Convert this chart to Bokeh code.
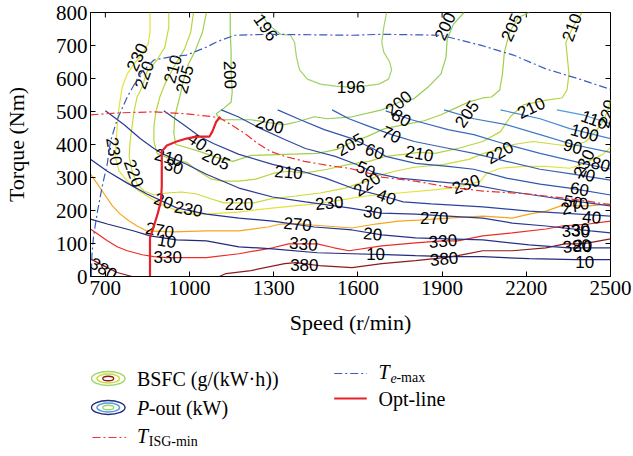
from bokeh.plotting import figure
from bokeh.models import Range1d, FixedTicker
from bokeh.layouts import column
from bokeh.embed import file_html
from bokeh.resources import INLINE
from bokeh.core.properties import value

# ---------------- data (speed r/min, torque Nm) ----------------
X_TICKS = [700, 1000, 1300, 1600, 1900, 2200, 2500]
Y_TICKS = [0, 100, 200, 300, 400, 500, 600, 700, 800]

BSFC_196_N = [1254, 1279, 1325, 1360, 1374, 1381, 1392, 1420, 1466, 1519, 1572, 1621, 1674, 1709, 1720, 1713, 1692, 1685, 1692, 1702]
BSFC_196_T = [800, 764, 734, 731, 710, 665, 626, 598, 583, 577, 574, 577, 583, 598, 626, 650, 680, 710, 755, 800]

BSFC_200_N = [1145, 1145, 1148, 1148, 1152, 1148, 1124, 1095, 1109, 1148, 1219, 1286, 1339, 1385, 1445, 1491, 1579, 1685, 1748, 1798, 1850, 1896, 1914, 1918, 1940, 1978]
BSFC_200_T = [800, 740, 680, 620, 559, 529, 511, 493, 475, 475, 475, 466, 460, 469, 484, 478, 484, 505, 529, 538, 574, 614, 665, 719, 764, 800]

BSFC_205_N = [1060, 1046, 1018, 996, 979, 965, 947, 944, 951, 989, 1035, 1095, 1155, 1219, 1339, 1455, 1526, 1582, 1632, 1695, 1766, 1836, 1896, 1949, 1995, 2045, 2076, 2105, 2115, 2122, 2140, 2172, 2210]
BSFC_205_T = [800, 740, 680, 644, 595, 544, 484, 433, 400, 391, 379, 361, 349, 367, 370, 373, 385, 409, 424, 448, 460, 472, 490, 511, 529, 541, 544, 565, 614, 680, 740, 785, 800]

BSFC_210_N = [1014, 1004, 982, 944, 912, 894, 880, 873, 873, 884, 936, 989, 1032, 1078, 1120, 1176, 1236, 1300, 1353, 1409, 1491, 1568, 1639, 1699, 1762, 1819, 1875, 1956, 2045, 2108, 2143, 2189, 2277, 2327, 2345, 2352, 2345, 2341, 2366, 2398]
BSFC_210_T = [800, 740, 689, 635, 583, 544, 499, 454, 409, 373, 355, 346, 319, 295, 289, 289, 295, 313, 319, 313, 325, 340, 349, 364, 370, 376, 373, 388, 409, 439, 484, 520, 535, 541, 565, 614, 674, 710, 755, 800]

BSFC_220_N = [926, 926, 912, 884, 848, 831, 813, 802, 795, 788, 785, 795, 813, 838, 873, 919, 972, 1025, 1078, 1123, 1176, 1229, 1289, 1378, 1466, 1554, 1596, 1632, 1667, 1731, 1801, 1907, 1995, 2048, 2101, 2154, 2225, 2306, 2366, 2412, 2447, 2472, 2489, 2500]
BSFC_220_T = [800, 755, 695, 656, 620, 574, 544, 499, 454, 409, 364, 319, 280, 259, 247, 253, 256, 250, 235, 223, 223, 223, 235, 244, 253, 268, 280, 289, 304, 319, 331, 340, 355, 373, 385, 400, 409, 400, 394, 409, 439, 469, 499, 535]

BSFC_230_N = [859, 859, 852, 831, 802, 778, 760, 749, 742, 739, 735, 749, 778, 820, 866, 912, 961, 1011, 1060, 1113, 1173, 1268, 1374, 1448, 1498, 1543, 1628, 1745, 1861, 1932, 1985, 2037, 2059, 2108, 2189, 2270, 2355, 2401, 2472, 2500]
BSFC_230_T = [800, 740, 704, 674, 644, 614, 574, 514, 454, 409, 364, 319, 289, 259, 235, 214, 198, 189, 189, 192, 195, 205, 214, 220, 226, 232, 244, 253, 262, 268, 277, 289, 313, 328, 334, 334, 328, 340, 370, 391]

BSFC_270_N = [647, 672, 696, 725, 753, 785, 813, 848, 944, 1060, 1176, 1279, 1325, 1385, 1438, 1579, 1663, 1745, 1815, 1921, 1981, 2045, 2150, 2210, 2270, 2323, 2422, 2500]
BSFC_270_T = [310, 280, 250, 214, 189, 168, 153, 138, 135, 138, 138, 150, 159, 160, 156, 147, 159, 168, 171, 177, 180, 183, 177, 189, 198, 214, 214, 220]

BSFC_330_N = [647, 707, 742, 778, 831, 873, 919, 972, 1060, 1176, 1296, 1353, 1406, 1455, 1515, 1568, 1685, 1805, 1900, 1956, 2045, 2150, 2270, 2327, 2373, 2422, 2500]
BSFC_330_T = [144, 108, 90, 78, 66, 60, 57, 57, 57, 69, 87, 99, 99, 99, 87, 78, 93, 102, 108, 108, 123, 132, 144, 153, 156, 159, 168]

BSFC_380A_N = [647, 672, 707, 742, 795]
BSFC_380A_T = [54, 42, 27, 12, 0]
BSFC_380B_N = [1106, 1130, 1219, 1339, 1378, 1462, 1579, 1685, 1805, 1907, 1956, 2045, 2150, 2270, 2337, 2383, 2422, 2500]
BSFC_380B_T = [0, 9, 18, 39, 42, 33, 27, 39, 48, 57, 63, 78, 78, 87, 99, 99, 102, 114]

P10_N = [647, 707, 802, 859, 954, 1060, 1176, 1296, 1455, 1579, 1699, 1805, 1921, 2045, 2210, 2376, 2500]
P10_T = [174, 159, 138, 123, 111, 108, 90, 84, 72, 69, 66, 63, 60, 60, 54, 51, 51]
P20_N = [647, 707, 778, 848, 954, 1060, 1176, 1296, 1445, 1579, 1685, 1805, 1921, 2045, 2210, 2352, 2500]
P20_T = [355, 319, 283, 250, 208, 189, 177, 168, 150, 141, 126, 117, 114, 111, 96, 87, 87]
P30_N = [700, 767, 824, 873, 908, 989, 1060, 1176, 1296, 1413, 1568, 1685, 1805, 1921, 2045, 2150, 2270, 2429, 2500]
P30_T = [502, 460, 418, 388, 370, 340, 310, 268, 241, 226, 208, 192, 189, 183, 177, 162, 153, 138, 132]
P40_N = [908, 979, 1035, 1085, 1176, 1296, 1413, 1484, 1579, 1702, 1761, 1861, 2045, 2210, 2387, 2500]
P40_T = [502, 460, 425, 403, 370, 340, 316, 298, 268, 241, 226, 220, 211, 198, 189, 183]
P50_N = [1113, 1173, 1254, 1339, 1413, 1519, 1593, 1663, 1745, 1861, 2016, 2129, 2249, 2366, 2500]
P50_T = [505, 484, 448, 415, 388, 364, 340, 313, 298, 289, 277, 259, 244, 229, 214]
P60_N = [1314, 1395, 1480, 1579, 1660, 1699, 1805, 1921, 2013, 2129, 2249, 2355, 2500]
P60_T = [505, 475, 445, 418, 385, 364, 343, 334, 325, 298, 280, 268, 247]
P70_N = [1508, 1568, 1642, 1720, 1801, 1907, 2013, 2129, 2249, 2366, 2500]
P70_T = [505, 478, 454, 430, 409, 391, 373, 349, 325, 310, 292]
P80_N = [1699, 1791, 1921, 2013, 2129, 2249, 2401, 2500]
P80_T = [502, 475, 445, 430, 400, 373, 343, 325]
P90_N = [1907, 2013, 2129, 2249, 2366, 2500]
P90_T = [505, 478, 460, 430, 400, 376]
P100_N = [2108, 2249, 2355, 2500]
P100_T = [505, 478, 448, 418]
P110_N = [2309, 2401, 2500]
P110_T = [505, 490, 463]

TEMAX_N = [650, 652, 658, 672, 689, 707, 718, 742, 778, 824, 873, 929, 989, 1060, 1102, 1162, 1289, 1579, 1685, 1896, 2037, 2154, 2270, 2390, 2500]
TEMAX_T = [0, 63, 123, 198, 274, 343, 409, 475, 544, 614, 656, 665, 671, 695, 713, 731, 734, 731, 734, 731, 701, 671, 629, 598, 567]

TISG_N = [647, 753, 873, 989, 1085, 1113, 1148, 1198, 1243, 1289, 1339, 1409, 1491, 1568, 1639, 1685, 1805, 1921, 2045, 2210, 2327, 2412, 2500]
TISG_T = [490, 496, 499, 493, 484, 478, 460, 433, 403, 379, 364, 349, 337, 328, 313, 301, 289, 271, 259, 250, 238, 229, 217]

OPT_N = [859, 859, 873, 887, 898, 901, 901, 901, 919, 954, 989, 1025, 1071, 1081, 1095, 1109]
OPT_T = [0, 117, 153, 192, 229, 274, 334, 379, 397, 409, 418, 424, 424, 439, 469, 484]

BSFC_LABEL_TEXT = ["196", "196", "200", "200", "200", "200", "205", "205", "205", "205", "205",
                   "210", "210", "210", "210", "210", "210", "220", "220", "220", "220", "220", "220",
                   "230", "230", "230", "230", "230", "230", "270", "270", "270", "270",
                   "330", "330", "330", "330", "380", "380", "380", "380"]
BSFC_LABEL_N = [1272, 1575, 1145, 1286, 1745, 1910, 982, 1095, 1572, 1988, 2147,
                940, 926, 1353, 1819, 2217, 2362, 838, 802, 1176, 1632, 2105, 2486,
                813, 732, 996, 1498, 1985, 2405, 894, 1385, 1872, 2373,
                922, 1406, 1903, 2376, 693, 1409, 1907, 2380]
BSFC_LABEL_T = [755, 574, 611, 460, 526, 758, 598, 355, 400, 493, 755,
                629, 361, 316, 373, 511, 755, 611, 313, 220, 280, 376, 493,
                665, 379, 205, 223, 280, 343, 141, 159, 177, 214,
                60, 99, 108, 141, 24, 36, 54, 93]
BSFC_LABEL_ANGLE = [-55, 0, -88, -15, 40, 65, 75, -25, 30, 55, 65,
                    75, -15, -5, -10, 25, 70, 70, -70, 0, 35, 30, 75,
                    65, -80, -10, 5, 20, 65, -10, -5, 0, 15,
                    0, -5, 5, 5, -30, 0, 5, 5]

P_LABEL_TEXT = ["10", "10", "10", "20", "20", "20", "30", "30", "30", "40", "40", "40",
                "50", "50", "60", "60", "70", "70", "80", "80", "90", "100", "110"]
P_LABEL_N = [919, 1663, 2408, 908, 1653, 2401, 944, 1653, 2394, 1028, 1702, 2433,
             1628, 2366, 1660, 2390, 1720, 2412, 1755, 2465, 2366, 2408, 2443]
P_LABEL_T = [108, 69, 45, 229, 129, 93, 334, 195, 138, 409, 241, 180,
             325, 226, 379, 265, 430, 310, 481, 340, 394, 436, 475]
P_LABEL_ANGLE = [-10, 0, 0, -20, -5, -5, -20, -10, -5, -35, -20, -5,
                 -25, -10, -20, -10, -25, -15, -30, -15, -15, -15, -20]

# ---------------- styles ----------------
BSFC_COLORS = {196: "#9fd46a", 200: "#93cc57", 205: "#a3cf48", 210: "#b8d53c",
               220: "#cbdb36", 230: "#e2e33a", 270: "#f7a51e", 330: "#ee2b25", 380: "#8c1c1c"}
P_COLORS = {10: "#222a7c", 20: "#25328a", 30: "#283a94", 40: "#2b439c", 50: "#2e4ca4",
            60: "#3156ad", 70: "#3560b5", 80: "#3a6bbf", 90: "#3f78c9", 100: "#4688d3", 110: "#4f9bdd"}

SERIF = "Liberation Serif"
SANS = "Liberation Sans"
W = 633
FRAME_L, FRAME_R = 83, 610

p = figure(width=W, height=348, x_range=Range1d(647, 2500), y_range=Range1d(0, 800),
           output_backend="svg", toolbar_location=None,
           min_border_left=FRAME_L, min_border_right=W - FRAME_R, min_border_top=12, min_border_bottom=72)
p.xgrid.visible = False
p.ygrid.visible = False
p.outline_line_color = "black"
p.background_fill_color = "white"
p.border_fill_color = "white"

for ax, ticks in ((p.xaxis[0], X_TICKS), (p.yaxis[0], Y_TICKS)):
    ax.ticker = FixedTicker(ticks=ticks)
    ax.major_tick_in = 5
    ax.major_tick_out = 0
    ax.minor_tick_line_color = None
    ax.axis_line_color = "black"
    ax.major_tick_line_color = "black"
    ax.major_label_text_font = SERIF
    ax.major_label_text_font_size = "21px"
    ax.major_label_text_color = "black"
    ax.axis_label_text_font = SERIF
    ax.axis_label_text_font_size = "22px"
    ax.axis_label_text_font_style = "normal"
    ax.axis_label_text_color = "black"

p.xaxis.axis_label = "Speed (r/min)"
p.yaxis.axis_label = "Torque (Nm)"
p.xaxis.major_label_standoff = 4
p.xaxis.axis_label_standoff = 12
p.yaxis.major_label_standoff = 3
p.yaxis.axis_label_standoff = 24

# mirrored inward ticks on the top and right edges
p.ray(x=X_TICKS, y=[p.y_range.end] * len(X_TICKS), length=5, length_units="screen",
      angle=-90, angle_units="deg", line_color="black", line_width=1)
p.ray(x=[p.x_range.end] * len(Y_TICKS), y=Y_TICKS, length=5, length_units="screen",
      angle=180, angle_units="deg", line_color="black", line_width=1)

bsfc_lines = [(196, BSFC_196_N, BSFC_196_T), (200, BSFC_200_N, BSFC_200_T),
              (205, BSFC_205_N, BSFC_205_T), (210, BSFC_210_N, BSFC_210_T),
              (220, BSFC_220_N, BSFC_220_T), (230, BSFC_230_N, BSFC_230_T),
              (270, BSFC_270_N, BSFC_270_T), (330, BSFC_330_N, BSFC_330_T),
              (380, BSFC_380A_N, BSFC_380A_T), (380, BSFC_380B_N, BSFC_380B_T)]
for lvl, xs, ys in bsfc_lines:
    p.line(xs, ys, line_color=BSFC_COLORS[lvl], line_width=1.2)

p_lines = [(10, P10_N, P10_T), (20, P20_N, P20_T), (30, P30_N, P30_T), (40, P40_N, P40_T),
           (50, P50_N, P50_T), (60, P60_N, P60_T), (70, P70_N, P70_T), (80, P80_N, P80_T),
           (90, P90_N, P90_T), (100, P100_N, P100_T), (110, P110_N, P110_T)]
for lvl, xs, ys in p_lines:
    p.line(xs, ys, line_color=P_COLORS[lvl], line_width=1.2)

p.text(x=BSFC_LABEL_N, y=BSFC_LABEL_T, text=BSFC_LABEL_TEXT, angle=BSFC_LABEL_ANGLE, angle_units="deg",
       text_font=value(SANS), text_font_size="17px", text_align="center", text_baseline="middle",
       text_color="black")
p.text(x=P_LABEL_N, y=P_LABEL_T, text=P_LABEL_TEXT, angle=P_LABEL_ANGLE, angle_units="deg",
       text_font=value(SANS), text_font_size="17px", text_align="center", text_baseline="middle",
       text_color="black")

p.line(TEMAX_N, TEMAX_T, line_color="#3a5bbf", line_width=1.2, line_dash="8 3 2 3")
p.line(TISG_N, TISG_T, line_color="#ee3030", line_width=1.2, line_dash="8 3 2 3")
p.line(OPT_N, OPT_T, line_color="#e8202a", line_width=2.2)

# ---------------- legend panel (coordinates = page pixels) ----------------
lg = figure(width=W, height=108, x_range=Range1d(FRAME_L, FRAME_R), y_range=Range1d(456, 348),
            output_backend="svg", toolbar_location=None,
            min_border_left=FRAME_L, min_border_right=W - FRAME_R, min_border_top=0, min_border_bottom=0,
            x_axis_type=None, y_axis_type=None)
lg.outline_line_color = None
lg.background_fill_color = "white"
lg.border_fill_color = "white"

lg.ellipse(x=[101], y=[378], width=34, height=14, fill_color=None, line_color="#9fd46a", line_width=1.4)
lg.ellipse(x=[101], y=[378], width=23, height=9, fill_color=None, line_color="#cbdb36", line_width=1.4)
lg.ellipse(x=[101], y=[378], width=11, height=4.5, fill_color=None, line_color="#8c1c1c", line_width=1.4)
lg.ellipse(x=[101], y=[407], width=34, height=14, fill_color=None, line_color="#222a7c", line_width=1.4)
lg.ellipse(x=[101], y=[407], width=23, height=9, fill_color=None, line_color="#4f9bdd", line_width=1.4)
lg.ellipse(x=[101], y=[407], width=11, height=4.5, fill_color=None, line_color="#9fd46a", line_width=1.4)
lg.line([85, 119], [437, 437], line_color="#ee3030", line_width=1.2, line_dash="8 3 2 3")
lg.line([330, 363], [373, 373], line_color="#3a5bbf", line_width=1.2, line_dash="8 3 2 3")
lg.line([330, 363], [398, 398], line_color="#e8202a", line_width=2.2)

def ltext(x, y, t, size="20px", style="normal"):
    lg.text(x=[x], y=[y], text=[t], text_font=value(SERIF), text_font_size=size,
            text_font_style=style, text_align="left", text_baseline="middle", text_color="black")

ltext(130, 378, "BSFC (g/(kW·h))")
ltext(130, 407, "P", style="italic")
ltext(142, 407, "-out (kW)")
ltext(130, 435, "T", style="italic")
ltext(142, 441, "ISG-min", size="14px")
ltext(375, 371, "T", style="italic")
ltext(387, 377, "e", size="14px", style="italic")
ltext(393, 377, "-max", size="14px")
ltext(375, 398, "Opt-line")

layout = column(p, lg, spacing=0)
open("out.html", "w").write(file_html(layout, INLINE))
